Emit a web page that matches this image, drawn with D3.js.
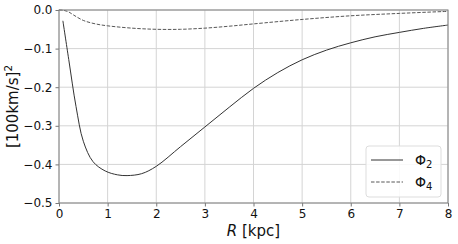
<!DOCTYPE html>
<html>
<head>
<meta charset="utf-8">
<script src="https://cdn.jsdelivr.net/npm/d3@7"></script>
<style>
  html, body { margin: 0; padding: 0; background: #fff; }
  svg { display: block; font-family: "DejaVu Sans", sans-serif; }
</style>
</head>
<body>
<svg id="chart" width="458" height="244"></svg>
<script>
// Data
const R2   = [0.08, 0.2, 0.35, 0.5, 0.7, 0.95, 1.2, 1.4, 1.7, 2.0, 2.5, 3.0, 3.5, 4.0, 4.5, 5.0, 5.5, 6.0, 6.5, 7.0, 7.5, 8.0];
const phi2 = [-0.028, -0.128, -0.25, -0.34, -0.393, -0.417, -0.427, -0.429, -0.424, -0.405, -0.354, -0.303, -0.252, -0.203, -0.162, -0.129, -0.104, -0.085, -0.0695, -0.058, -0.0475, -0.039];
const R4   = [0, 0.1, 0.2, 0.3, 0.5, 0.75, 1.0, 1.5, 2.0, 2.5, 3.0, 3.5, 4.0, 5.0, 6.0, 7.0, 8.0];
const phi4 = [0, -0.001, -0.005, -0.013, -0.027, -0.036, -0.041, -0.047, -0.050, -0.050, -0.047, -0.042, -0.036, -0.0245, -0.015, -0.0088, -0.0035];
const xTicks = [0, 1, 2, 3, 4, 5, 6, 7, 8];
const yTicks = [0, -0.1, -0.2, -0.3, -0.4, -0.5];

const svg = d3.select("#chart");
const m = { left: 59, right: 448, top: 10, bottom: 203 };

const x = d3.scaleLinear().domain([0, 8]).range([m.left, m.right]);
const y = d3.scaleLinear().domain([-0.5, 0]).range([m.bottom, m.top]);

// grid
const grid = svg.append("g");
grid.selectAll(".gx").data(xTicks).enter().append("line")
  .attr("x1", d => x(d)).attr("x2", d => x(d))
  .attr("y1", m.top).attr("y2", m.bottom)
  .attr("stroke", "#d4d4d4").attr("stroke-width", 1);
grid.selectAll(".gy").data(yTicks).enter().append("line")
  .attr("y1", d => y(d)).attr("y2", d => y(d))
  .attr("x1", m.left).attr("x2", m.right)
  .attr("stroke", "#d4d4d4").attr("stroke-width", 1);

// lines
const line = d3.line().curve(d3.curveCatmullRom.alpha(0.5));
const pts2 = R2.map((r, i) => [x(r), y(phi2[i])]);
const pts4 = R4.map((r, i) => [x(r), y(phi4[i])]);

svg.append("path").attr("d", line(pts2))
  .attr("fill", "none").attr("stroke", "#333").attr("stroke-width", 1);
svg.append("path").attr("d", line(pts4))
  .attr("fill", "none").attr("stroke", "#444").attr("stroke-width", 0.9)
  .attr("stroke-dasharray", "3.5,1.6");

// axes
const xAxis = d3.axisBottom(x).tickValues(xTicks).tickSize(3.5).tickPadding(3)
  .tickFormat(d3.format("d"));
const yAxis = d3.axisLeft(y).tickValues(yTicks).tickSize(3.5).tickPadding(3)
  .tickFormat(d => d3.format(".1f")(d).replace("-", "\u2212"));

const gx = svg.append("g").attr("transform", `translate(0,${m.bottom})`).call(xAxis);
const gy = svg.append("g").attr("transform", `translate(${m.left},0)`).call(yAxis);
[gx, gy].forEach(g => {
  g.select(".domain").remove();
  g.selectAll(".tick line").attr("stroke", "#777");
  g.selectAll(".tick text").attr("fill", "#111").style("font-size", "12px")
    .style("font-family", "DejaVu Sans");
});

// spines
svg.append("rect")
  .attr("x", m.left).attr("y", m.top)
  .attr("width", m.right - m.left).attr("height", m.bottom - m.top)
  .attr("fill", "none").attr("stroke", "#808080").attr("stroke-width", 1);

// axis labels
const xl = svg.append("text").attr("x", (m.left + m.right) / 2).attr("y", 236)
  .attr("text-anchor", "middle").attr("fill", "#111").style("font-size", "15px");
xl.append("tspan").style("font-style", "italic").text("R");
xl.append("tspan").text(" [kpc]");

const yl = svg.append("text")
  .attr("transform", `translate(18,${(m.top + m.bottom) / 2}) rotate(-90)`)
  .attr("text-anchor", "middle").attr("fill", "#111").style("font-size", "15px");
yl.append("tspan").text("[100km/s]");
yl.append("tspan").attr("dy", -6).style("font-size", "10.5px").text("2");

// legend
const leg = svg.append("g");
leg.append("rect").attr("x", 366).attr("y", 146).attr("width", 75).attr("height", 51)
  .attr("rx", 3).attr("fill", "#fff").attr("fill-opacity", 0.85)
  .attr("stroke", "#ddd").attr("stroke-width", 1);
const items = [
  { name: "2", dash: null, sw: 1, col: "#333" },
  { name: "4", dash: "3.5,1.6", sw: 0.9, col: "#444" }
];
items.forEach((it, i) => {
  const yy = 160 + i * 22;
  const l = leg.append("line").attr("x1", 371).attr("x2", 403).attr("y1", yy).attr("y2", yy)
    .attr("stroke", it.col).attr("stroke-width", it.sw);
  if (it.dash) l.attr("stroke-dasharray", it.dash);
  const t = leg.append("text").attr("x", 415).attr("y", yy + 5)
    .attr("fill", "#111").style("font-size", "14px");
  t.append("tspan").text("\u03A6");
  t.append("tspan").attr("dy", 3).style("font-size", "10px").text(it.name);
});
</script>
</body>
</html>
